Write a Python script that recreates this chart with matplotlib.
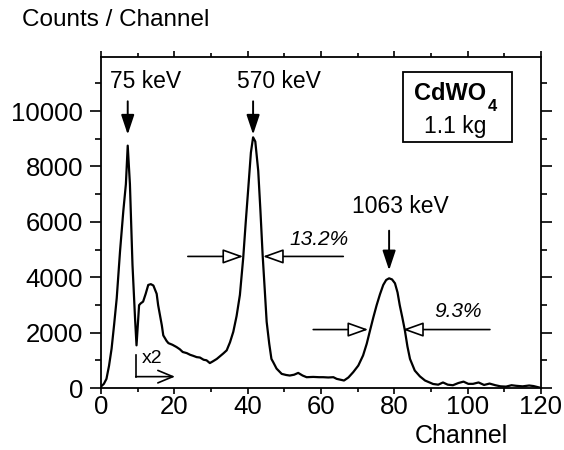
import matplotlib
matplotlib.use('Agg')
import matplotlib.pyplot as plt
import numpy as np
from matplotlib.patches import Rectangle
from matplotlib.ticker import MultipleLocator

plt.rcParams['font.family'] = ['Liberation Sans', 'DejaVu Sans']

# spectrum
channel = [0, 0.8, 1.5, 2.2, 2.9, 3.6, 4.3, 5.2, 6.1, 6.8, 7.3, 7.9, 8.6, 9.3, 9.7,
           10.4, 10.8, 11.5, 12.2, 12.9, 13.6, 14.3, 15.2, 15.6, 16.6, 17.0, 17.9,
           18.4, 19.5, 20.6, 21.5, 22.3, 23.4, 24.3, 25.2, 26.1, 27, 28, 28.8, 29.7,
           30.5, 31.6, 32.5, 33.4, 34.3, 35.2, 36.1, 37, 37.9, 38.8, 39.5, 40.2,
           40.9, 41.5, 42.1, 42.9, 43.5, 44.1, 44.7, 45.2, 45.9, 46.5, 47, 47.9,
           49.3, 50.5, 51.5, 52.7, 53.8, 55, 56.1, 57.9, 59.5, 60.6, 62, 63.4, 64.3,
           65.3, 66.3, 67.5, 68.8, 70.2, 71.5, 72.5, 73.4, 74.3, 75.2, 76.1, 77,
           77.8, 78.6, 79.4, 80.2, 80.9, 81.5, 82.2, 82.9, 83.6, 84.3, 85.6, 87,
           88.4, 90.6, 92, 93.3, 94.6, 96, 97.5, 98.9, 100.2, 101.5, 103, 104.5,
           106, 107.6, 109, 110.5, 112, 113.2, 115, 116.8, 118, 119.5]
counts = [50, 150, 330, 800, 1420, 2300, 3240, 4930, 6390, 7360, 8750, 7360, 4450,
          2510, 1540, 2990, 3050, 3120, 3400, 3720, 3750, 3700, 3400, 2990, 2265,
          1900, 1700, 1620, 1560, 1480, 1400, 1300, 1260, 1200, 1160, 1115, 1100,
          1020, 1000, 900, 960, 1050, 1150, 1250, 1360, 1650, 2030, 2600, 3360,
          4690, 6000, 7240, 8500, 9050, 8900, 7840, 6400, 4810, 3500, 2390, 1600,
          1050, 930, 700, 510, 470, 450, 480, 545, 450, 390, 400, 390, 390, 380,
          390, 330, 300, 270, 380, 570, 810, 1175, 1600, 2080, 2550, 2990, 3380,
          3720, 3900, 3960, 3920, 3780, 3450, 2990, 2550, 2080, 1500, 1050, 630,
          420, 270, 145, 120, 200, 120, 100, 180, 230, 150, 150, 200, 110, 160,
          100, 60, 50, 100, 80, 60, 90, 70, 20]

peak_labels = ['75 keV', '570 keV', '1063 keV']
peak_channels = [7.3, 41.5, 78.6]
resolutions = ['13.2%', '9.3%']

fig = plt.figure(figsize=(5.64, 4.5), dpi=100)
ax = fig.add_axes([0.179, 1 - 388 / 450, 0.780, 331 / 450])

ax.plot(channel, counts, color='black', lw=1.6)

ax.set_xlim(0, 120)
ax.set_ylim(0, 11950)
ax.xaxis.set_major_locator(MultipleLocator(20))
ax.xaxis.set_minor_locator(MultipleLocator(10))
ax.yaxis.set_major_locator(MultipleLocator(2000))
ax.yaxis.set_minor_locator(MultipleLocator(1000))
ax.tick_params(which='both', direction='out', top=True, right=True, width=1.2,
               labelsize=18.5)
ax.tick_params(axis='y', which='major', length=8, pad=5)
ax.tick_params(axis='y', which='minor', length=4)
ax.tick_params(axis='x', which='major', length=4, pad=1)
ax.tick_params(axis='x', which='minor', length=3)
for s in ax.spines.values():
    s.set_linewidth(1.3)

fig.text(22 / 564, 1 - 20 / 450, 'Counts / Channel', fontsize=17.5, ha='left', va='center')
fig.text(461 / 564, 1 - 436 / 450, 'Channel', fontsize=18, ha='center', va='center')

# peak labels with filled down arrows
text_pos = [(2.5, 11050), (37, 11050), (68.5, 6550)]
arrow_top = [10350, 10350, 5680]
arrow_tip = [9150, 9150, 4250]
for lab, pc, tp, at, tip in zip(peak_labels, peak_channels, text_pos, arrow_top, arrow_tip):
    ax.text(tp[0], tp[1], lab, fontsize=16.5, ha='left', va='center')
    ax.annotate('', xy=(pc, tip), xytext=(pc, at),
                arrowprops=dict(arrowstyle='-|>,head_length=0.6,head_width=0.2',
                                mutation_scale=20, lw=1.4, color='black',
                                shrinkA=0, shrinkB=0))

# FWHM open arrows
fwhm = [((23.7, 38.8), (66.1, 44.2), 4750), ((57.9, 72.9), (106.1, 82.4), 2110)]
for (l0, l1), (r0, r1), yv in fwhm:
    for a, b in [(l0, l1), (r0, r1)]:
        ax.annotate('', xy=(b, yv), xytext=(a, yv),
                    arrowprops=dict(arrowstyle='-|>,head_length=0.7,head_width=0.25',
                                    mutation_scale=18, lw=1.2, ec='black', fc='white',
                                    shrinkA=0, shrinkB=0))
ax.text(59.5, 5350, resolutions[0], fontsize=15, style='italic', ha='center', va='center')
ax.text(97.3, 2750, resolutions[1], fontsize=15, style='italic', ha='center', va='center')

# x2 marker
ax.plot([9.5, 9.5], [1175, 410], color='black', lw=1.2)
ax.annotate('', xy=(20.2, 410), xytext=(9.5, 410),
            arrowprops=dict(arrowstyle='->,head_length=0.6,head_width=0.25',
                            mutation_scale=18, lw=1.2, color='black',
                            shrinkA=0, shrinkB=0))
ax.text(11.2, 1050, 'x2', fontsize=14, ha='left', va='center')

# sample box
ax.add_patch(Rectangle((82.4, 8870), 29.7, 2550, fill=False, ec='black', lw=1.3))
ax.text(105.2, 10640, 'CdWO', fontsize=17, fontweight='bold', ha='right', va='center')
ax.text(105.4, 10150, '4', fontsize=12, fontweight='bold', ha='left', va='center')
ax.text(96.5, 9450, '1.1 kg', fontsize=16.5, ha='center', va='center')

fig.savefig('out.png', dpi=100)
